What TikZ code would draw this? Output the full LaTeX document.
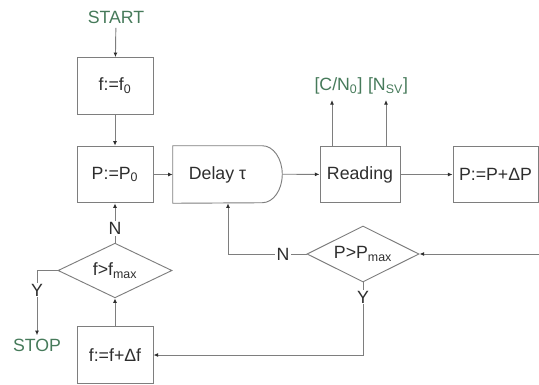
\documentclass[tikz,border=0pt]{standalone}
\usepackage{fontspec}
\setmainfont{Liberation Sans}
\usetikzlibrary{arrows.meta, shapes.geometric}
\definecolor{linegray}{HTML}{7E7E7E}
\definecolor{txtgray}{HTML}{2E2E2E}
\definecolor{flowgreen}{HTML}{467A5A}

\begin{document}
\begin{tikzpicture}[x=0.75pt, y=-0.75pt,
    every node/.style={font=\fontsize{13.3}{16}\selectfont, text=txtgray},
    box/.style={draw=linegray, line width=0.7pt, minimum width=57pt, minimum height=42.5pt, inner sep=0pt},
    test/.style={draw=linegray, line width=0.7pt, diamond, aspect=2, inner sep=0pt},
    term/.style={text=flowgreen},
    lbl/.style={fill=white, inner sep=1pt},
    arr/.style={draw=linegray, line width=0.7pt, -{Latex[length=3.5pt, width=3pt, color=txtgray]}},
    ln/.style={draw=linegray, line width=0.7pt}]
  \useasboundingbox (0,0) rectangle (539,385);

  % main row
  \node[term] (start) at (116,17) {START};
  \node[box] (f0) at (115,86) {f:=f\textsubscript{0}};
  \node[box] (p0) at (115,174.5) {P:=P\textsubscript{0}};
  \node[minimum width=66.75pt, minimum height=42.75pt, inner sep=0pt] (delay) at (217.5,174.5) {Delay τ};
  \draw[ln] (delay.north west) -- (delay.north east)
    arc[start angle=90, end angle=0, x radius=15pt, y radius=21.375pt] coordinate (delayout)
    arc[start angle=0, end angle=-90, x radius=15pt, y radius=21.375pt] -- (delay.south west) -- cycle;
  \node[box, minimum width=60pt] (reading) at (360,174.5) {Reading};
  \node[box, minimum width=63.75pt] (pstep) at (495.5,174.5) {P:=P+ΔP};

  % outputs of the reading
  \node[term] (cn0) at (338.5,86) {[C/N\textsubscript{0}]};
  \node[term] (nsv) at (388,86) {[N\textsubscript{SV}]};
  \coordinate (cnin) at (332,100);
  \coordinate (nsvin) at (386,100);

  % tests
  \node[test, minimum width=84pt, minimum height=42pt] (pmax) at (363,254) {P>P\textsubscript{max}};
  \node[test, minimum width=85.5pt, minimum height=41pt] (fmax) at (115,270.5) {f>f\textsubscript{max}};
  \node[box] (fstep) at (115,355) {f:=f+Δf};
  \node[term] (stop) at (37,345) {STOP};
  \coordinate (back) at (539,254);
  \coordinate (nturn) at (228,254);

  \draw[arr] (start) -- (f0);
  \draw[arr] (f0) -- (p0);
  \draw[arr] (p0) -- (delay);
  \draw[arr] (delayout) -- (reading);
  \draw[arr] (reading) -- (pstep);
  \draw[arr] (cnin |- reading.north) -- (cnin);
  \draw[arr] (nsvin |- reading.north) -- (nsvin);
  \draw[arr] (back) -- (pmax.east);
  \draw[arr] (pmax.west) -- node[lbl, pos=0.3] {N} (nturn) -- (nturn |- delay.south);
  \draw[arr] (pmax.south) -- node[lbl, pos=0.2] {Y} (pmax.south |- fstep.east) -- (fstep.east);
  \draw[arr] (fstep) -- (fmax);
  \draw[arr] (fmax.north) -- node[lbl, pos=0.37] {N} (p0.south);
  \draw[arr] (fmax.west) -- (fmax.west -| stop.north) -- node[lbl, pos=0.3] {Y} ([yshift=-1pt]stop.north);
\end{tikzpicture}
\end{document}
